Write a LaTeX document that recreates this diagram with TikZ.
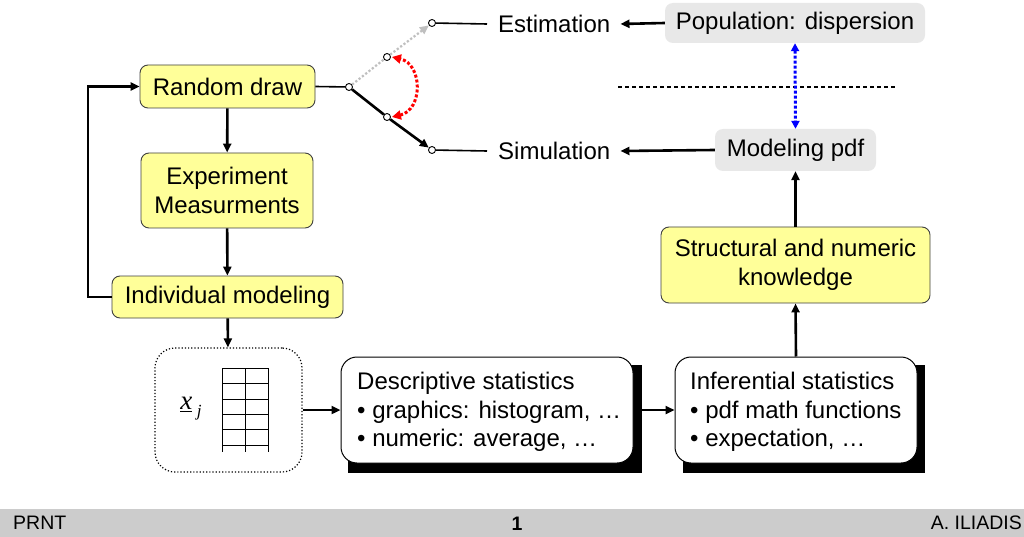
\documentclass[tikz,border=0pt]{standalone}
\usepackage{fontspec}
\setmainfont{Liberation Sans}
\newfontfamily\seriffont{Liberation Serif}
\usetikzlibrary{arrows.meta,calc}
\definecolor{boxyellow}{HTML}{FFFF99}
\definecolor{boxgray}{HTML}{E8E8E8}
\definecolor{footgray}{HTML}{CCCCCC}
\tikzset{
  every node/.style={font=\fontsize{24}{28.5}\selectfont},
  ybox/.style={draw=black!75, line width=0.9, fill=boxyellow, rounded corners=8, align=center, inner sep=0},
  gbox/.style={fill=boxgray, rounded corners=8, inner sep=0},
  wbox/.style={draw=black, line width=1, fill=white, rounded corners=16, inner sep=0},
  shadowbox/.style={fill=black},
  conn/.style={line width=2.6, -{Triangle[length=9,width=8]}},
  plain/.style={line width=1.6},
  circ/.style={circle, draw=black, line width=0.9, fill=white, minimum size=7, inner sep=0},
  txt/.style={inner sep=0, anchor=west},
  foot/.style={font=\fontsize{19.5}{22}\selectfont, inner sep=0},
}
\begin{document}
\begin{tikzpicture}[x=1pt,y=-1pt]
\useasboundingbox (0,0) rectangle (1024,537);
\fill[white] (0,0) rectangle (1024,537);

% left column
\node[ybox, minimum width=175, minimum height=43] (rd) at (227.5,86.5) {Random draw};
\node[ybox, minimum width=172, minimum height=75] (exp) at (227,190.5) {Experiment\\Measurments};
\node[ybox, minimum width=231, minimum height=42] (ind) at (227.5,297) {Individual modeling};

% data table
\node[draw=black, dotted, line width=1.2, rounded corners=20, minimum width=147, minimum height=124, inner sep=0] (tab) at (228.5,410) {};
\draw[line width=1] (222,368) -- (222,452) (245,368) -- (245,452) (268,368) -- (268,452);
\foreach \yy in {368,383,399,414,429,445} \draw[line width=1] (222,\yy) -- (268,\yy);
\node[inner sep=0, font=\fontsize{27}{27}\selectfont\seriffont\itshape] (xj) at (191,409) {\underline{x}\,\raisebox{-7pt}{\fontsize{17}{17}\selectfont j}};

% statistics boxes with drop shadows
\fill[shadowbox] (348,365) rectangle (642,473);
\node[wbox, minimum width=292, minimum height=106] (desc) at (487,410) {};
\node[txt, align=left] (desctxt) at (357,412) {Descriptive statistics\\\textbullet{} graphics: histogram, \dots\\\textbullet{} numeric: average, \dots};
\fill[shadowbox] (683,365) rectangle (925,473);
\node[wbox, minimum width=242, minimum height=106] (inf) at (796,410) {};
\node[txt, align=left] (inftxt) at (690,412) {Inferential statistics\\\textbullet{} pdf math functions\\\textbullet{} expectation, \dots};

% right column
\node[ybox, minimum width=269, minimum height=76] (str) at (795.5,265) {Structural and numeric\\knowledge};
\node[gbox, minimum width=161, minimum height=42] (mpdf) at (795.5,150) {Modeling pdf};
\node[gbox, minimum width=260, minimum height=40] (pop) at (795,23) {Population: dispersion};

\node[txt] (est) at (498,24) {Estimation};
\node[txt] (sim) at (498,151) {Simulation};

% switch
\node[circ] (p0) at (349,87) {};
\node[circ] (up) at (387,57) {};
\node[circ] (dn) at (387,117) {};
\node[circ] (e1) at (432,23) {};
\node[circ] (s1) at (432,150) {};

% flow connectors
\draw[conn] (rd) -- (exp);
\draw[conn] (exp) -- (ind);
\draw[conn] (ind) -- (tab);
\draw[conn] (ind.west) -- (88,297) |- (rd.west);
\draw[conn] (tab.east) -- (desc.west);
\draw[conn] (642,410) -- (inf.west);
\draw[conn] (inf.north) -- (str.south);
\draw[conn] (str.north) -- (mpdf.south);
\draw[conn] (pop.west) -- ([xshift=10]est.east);
\draw[conn] (mpdf.west) -- ([xshift=10]sim.east);

\draw[plain] (rd.east) -- (p0);
\draw[plain] (e1) -- ([xshift=-11]est.west);
\draw[plain] (s1) -- ([xshift=-11]sim.west);
\draw[line width=2.6] (p0) -- (dn);
\draw[conn] (dn) -- (s1);
\draw[line width=2.2, black!25, dotted] (p0) -- (up);
\draw[line width=2.2, black!25, dotted, -{Triangle[length=9,width=8]}] (up) -- (e1);
\draw[line width=3, red, dotted, {Triangle[length=9,width=9]}-{Triangle[length=9,width=9]}]
  ($(dn.east)+(1,0)$) .. controls (423,110) and (423,64) .. ($(up.east)+(1,0)$);

% population / model separation
\draw[line width=1.3, dash pattern=on 4 off 3] (618,87) -- (897,87);
\draw[line width=3, blue, dotted, {Triangle[length=8,width=8]}-{Triangle[length=8,width=8]}] (pop.south) -- (mpdf.north);

% footer
\fill[footgray] (0,509) rectangle (1024,537);
\node[foot, anchor=west] (ftl) at (13,523) {PRNT};
\node[foot, font=\fontsize{19.5}{22}\selectfont\bfseries] (ftc) at (517,524) {1};
\node[foot, anchor=east] (ftr) at (1022,523) {A. ILIADIS};
\end{tikzpicture}
\end{document}
